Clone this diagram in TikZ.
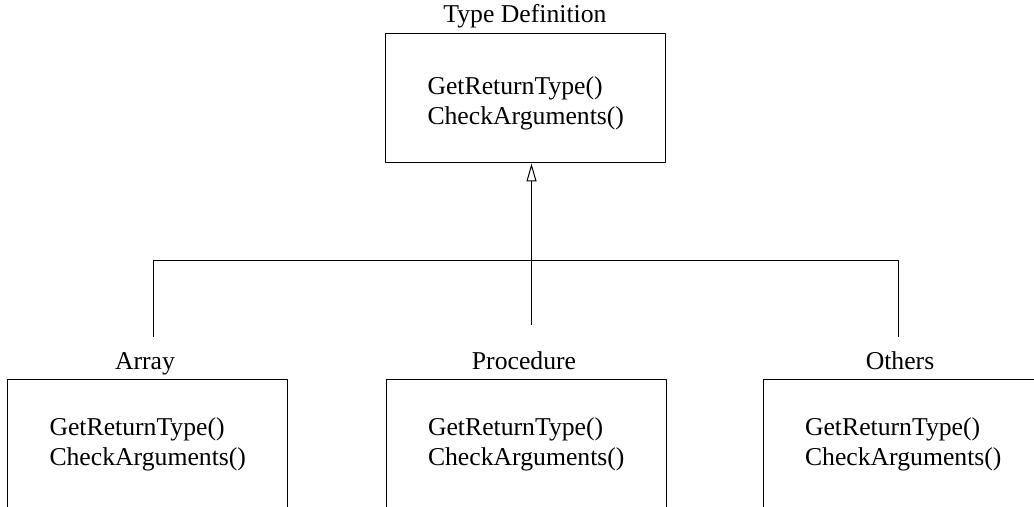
\documentclass[tikz,border=0pt]{standalone}
\usepackage{fontspec}
\setmainfont{Liberation Serif}
\usetikzlibrary{arrows.meta}
\tikzset{
  classbox/.style={draw,rectangle,line width=1bp,minimum height=129bp,
    text width=196bp,inner xsep=42bp,inner ysep=0bp,align=left,
    font=\fontsize{25.7bp}{30bp}\selectfont},
  classname/.style={anchor=base,inner sep=0bp,
    font=\fontsize{25.7bp}{30bp}\selectfont},
}
\begin{document}
\begin{tikzpicture}[>={Triangle[open,length=18bp,width=10bp]},line join=bevel,line width=1bp,]
\useasboundingbox (0bp,0bp) rectangle (1034bp,507bp);
\clip (0bp,0bp) rectangle (1034bp,507bp);
%%
\node (node_typedef) at (525.5bp,408.5bp) [classbox,text height=27bp] {GetReturnType()\\CheckArguments()};
  \node (name_typedef) at (525bp,484bp) [classname] {Type Definition};
\node (node_array) at (147.5bp,62.5bp) [classbox] {GetReturnType()\\CheckArguments()};
  \node (name_array) at (145bp,137bp) [classname] {Array};
\node (node_procedure) at (526bp,62.5bp) [classbox] {GetReturnType()\\CheckArguments()};
  \node (name_procedure) at (524bp,137bp) [classname] {Procedure};
\node (node_others) at (903bp,62.5bp) [classbox] {GetReturnType()\\CheckArguments()};
  \node (name_others) at (900bp,137bp) [classname] {Others};
%
\coordinate (hub_end) at (531.5bp,182bp);
\coordinate (arr_end) at (153bp,170bp);
\coordinate (oth_end) at (898bp,170bp);
\coordinate (bar_left) at (153bp,246bp);
\coordinate (bar_right) at (898bp,246bp);
\draw [black,->] (hub_end) -- (node_typedef.south -| hub_end);
\draw [black] (arr_end) -- (bar_left) -- (bar_right) -- (oth_end);
%
\end{tikzpicture}
\end{document}
